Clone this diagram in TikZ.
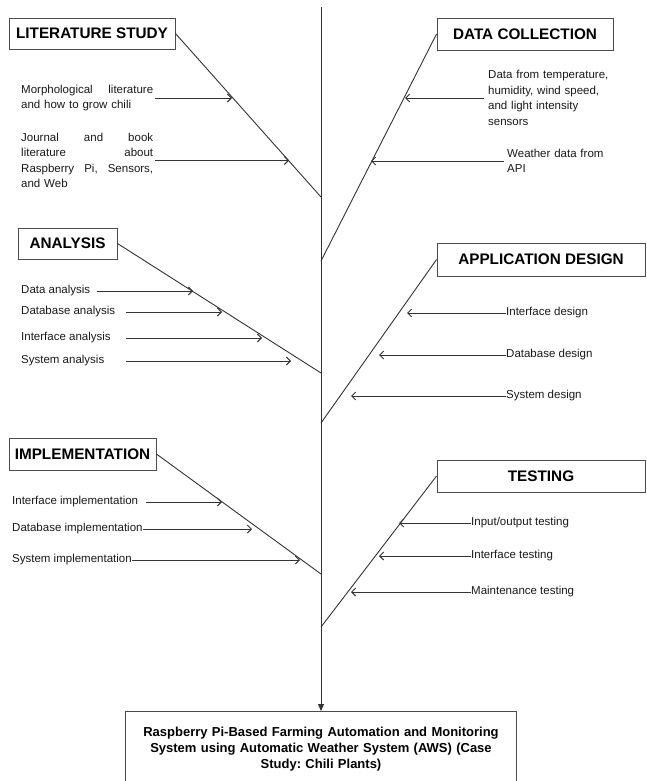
\documentclass[tikz,border=0pt]{standalone}
\usepackage{fontspec}
\setmainfont{Liberation Sans}
\usetikzlibrary{arrows.meta, positioning}
\frenchspacing

\begin{document}
\begin{tikzpicture}[x=1pt, y=-1pt,
        phase/.style = {draw=black!70, line width=0.9pt, inner sep=0pt, font=\fontsize{15.3}{18}\selectfont\bfseries},
        item/.style = {inner sep=0pt, text=black!90, font=\fontsize{11.5}{15.5}\selectfont},
        bone/.style = {draw=black!80, line width=0.9pt},
        sub/.style = {bone, -{Straight Barb[length=4pt, width=8pt]}},
        goalbox/.style = {draw=black!70, line width=0.9pt, minimum width=390, minimum height=76, text width=385, align=center, font=\fontsize{13}{16}\selectfont\bfseries}]
        \useasboundingbox (0,0) rectangle (646,781);
        % phase boxes
        \node[phase, minimum width=166, minimum height=31] (lit) at (92,33.5) {LITERATURE STUDY};
        \node[phase, minimum width=176, minimum height=32] (col) at (525,34) {DATA COLLECTION};
        \node[phase, minimum width=99, minimum height=31] (ana) at (67.5,243.5) {ANALYSIS};
        \node[phase, minimum width=208, minimum height=33] (des) at (541,259.5) {APPLICATION DESIGN};
        \node[phase, minimum width=147, minimum height=32] (imp) at (82.5,454) {IMPLEMENTATION};
        \node[phase, minimum width=208, minimum height=32] (tst) at (541,476) {TESTING};
        \node[goalbox, anchor=north] (goal) at (321,711) {Raspberry Pi-Based Farming Automation and Monitoring\\System using Automatic Weather System (AWS) (Case\\Study: Chili Plants)};
        % spine
        \coordinate (top) at (321,7);
        \coordinate (s1) at (321,197);
        \coordinate (s2) at (321,261);
        \coordinate (s3) at (321,373);
        \coordinate (s4) at (321,423);
        \coordinate (s5) at (321,574);
        \coordinate (s6) at (321,627);
        \draw[bone, -{Triangle[length=7pt, width=6pt]}] (top) -- (goal.north);
        \draw[bone] (lit.east) -- (s1);
        \draw[bone] (col.west) -- (s2);
        \draw[bone] (ana.east) -- (s3);
        \draw[bone] (des.west) -- (s4);
        \draw[bone] (imp.east) -- (s5);
        \draw[bone] (tst.west) -- (s6);
        % literature study
        \node[item, anchor=west, text width=132, align=left] (m1) at (21,98) {Morphological\hfill literature\\and how to grow chili};
        \node[item, anchor=west, text width=132, align=left] (m2) at (21,160.5) {Journal\hfill and\hfill book\\literature\hfill about\\Raspberry\hfill Pi,\hfill Sensors,\\and Web};
        \coordinate (m1h) at (232,98);
        \coordinate (m2h) at (289,160.5);
        \draw[sub] ([xshift=2pt]m1.east) -- (m1h);
        \draw[sub] ([xshift=2pt]m2.east) -- (m2h);
        % data collection
        \node[item, anchor=west, text width=125, align=left] (c1) at (488,98) {Data from temperature,\\humidity, wind speed,\\and light intensity\\sensors};
        \node[item, anchor=west, text width=110, align=left] (c2) at (507,161) {Weather data from\\API};
        \coordinate (c1h) at (405,98);
        \coordinate (c2h) at (371,161);
        \draw[sub] ([xshift=-4pt]c1.west) -- (c1h);
        \draw[sub] ([xshift=-3pt]c2.west) -- (c2h);
        % analysis
        \node[item, anchor=west] (a1) at (21,291) {Data analysis};
        \node[item, anchor=west] (a2) at (21,312) {Database analysis};
        \node[item, anchor=west] (a3) at (21,338) {Interface analysis};
        \node[item, anchor=west] (a4) at (21,361) {System analysis};
        \coordinate (ac1) at (97,0);
        \coordinate (ac) at (126,0);
        \coordinate (a1h) at (193,291);
        \coordinate (a2h) at (222,312);
        \coordinate (a3h) at (262,338);
        \coordinate (a4h) at (291,361);
        \draw[sub] (a1 -| ac1) -- (a1h);
        \draw[sub] (a2 -| ac) -- (a2h);
        \draw[sub] (a3 -| ac) -- (a3h);
        \draw[sub] (a4 -| ac) -- (a4h);
        % application design
        \node[item, anchor=west] (p1) at (506,313) {Interface design};
        \node[item, anchor=west] (p2) at (506,355) {Database design};
        \node[item, anchor=west] (p3) at (506,396) {System design};
        \coordinate (p1h) at (407,313);
        \coordinate (p2h) at (379,355);
        \coordinate (p3h) at (351,396);
        \draw[sub] (p1.west) -- (p1h);
        \draw[sub] (p2.west) -- (p2h);
        \draw[sub] (p3.west) -- (p3h);
        % implementation
        \node[item, anchor=west] (i1) at (12,502) {Interface implementation};
        \node[item, anchor=west] (i2) at (12,529) {Database implementation};
        \node[item, anchor=west] (i3) at (12,560) {System implementation};
        \coordinate (ic) at (146,0);
        \coordinate (i1h) at (222,502);
        \coordinate (i2h) at (252,529);
        \coordinate (i3h) at (300,560);
        \draw[sub] (i1 -| ic) -- (i1h);
        \draw[sub] (i2.east) -- (i2h);
        \draw[sub] (i3.east) -- (i3h);
        % testing
        \node[item, anchor=west] (t1) at (471,523) {Input/output testing};
        \node[item, anchor=west] (t2) at (471,556) {Interface testing};
        \node[item, anchor=west] (t3) at (471,592) {Maintenance testing};
        \coordinate (t1h) at (399,523);
        \coordinate (t2h) at (379,556);
        \coordinate (t3h) at (351,592);
        \draw[sub] (t1.west) -- (t1h);
        \draw[sub] (t2.west) -- (t2h);
        \draw[sub] (t3.west) -- (t3h);
\end{tikzpicture}
\end{document}
